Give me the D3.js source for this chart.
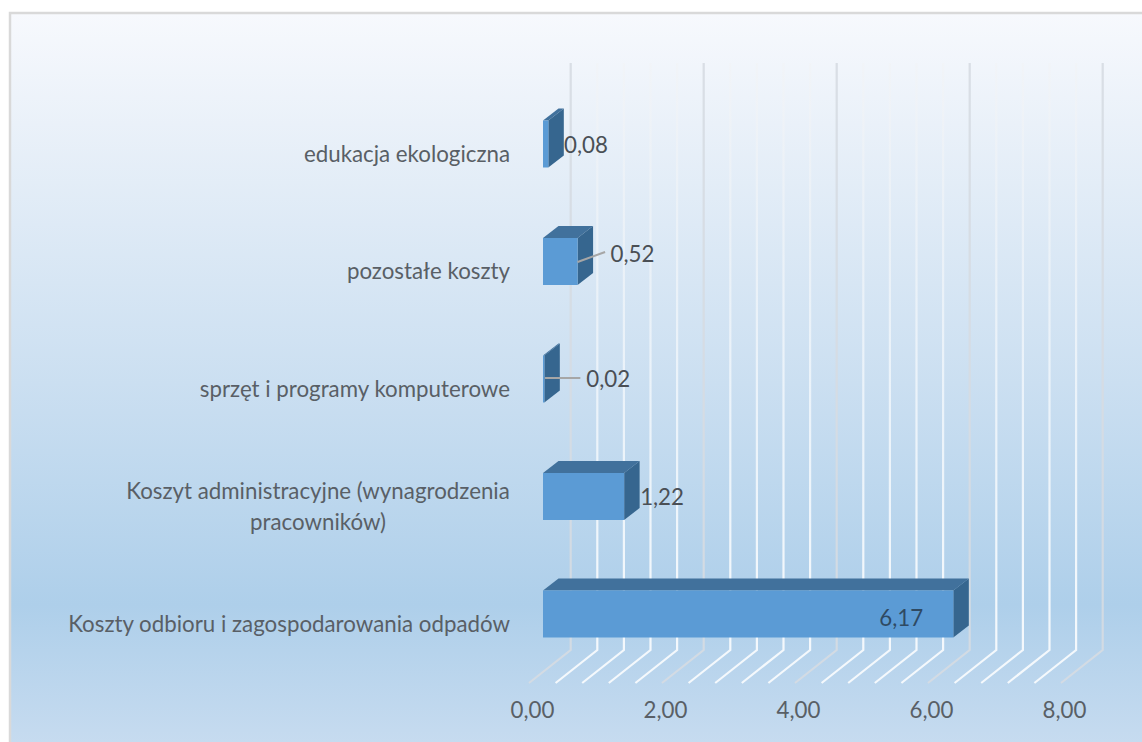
<!DOCTYPE html>
<html>
<head>
<meta charset="utf-8">
<script src="https://cdnjs.cloudflare.com/ajax/libs/d3/7.8.5/d3.min.js"></script>
<style>
html, body { margin: 0; padding: 0; background: #fff; overflow: hidden; }
text { font-family: Lato, "Open Sans", sans-serif; }
</style>
</head>
<body>
<div id="chart"></div>
<script>
// dane
const categories = [
    "edukacja ekologiczna",
    "pozostałe koszty",
    "sprzęt i programy komputerowe",
    "Koszyt administracyjne (wynagrodzenia pracowników)",
    "Koszty odbioru i zagospodarowania odpadów"
];
const values = [0.08, 0.52, 0.02, 1.22, 6.17];
const valueLabels = ["0,08", "0,52", "0,02", "1,22", "6,17"];
const axisTicks = [0, 2, 4, 6, 8];

const createBarChart = () => {
    const w = 1142, h = 742;
    const fontSize = 22.3;
    const svg = d3.select("#chart").append("svg")
        .attr("width", w)
        .attr("height", h)
        .style("display", "block");

    const defs = svg.append("defs");
    const bg = defs.append("linearGradient")
        .attr("id", "bg")
        .attr("gradientUnits", "userSpaceOnUse")
        .attr("x1", 0).attr("y1", 13).attr("x2", 0).attr("y2", 753);
    [[0, "#f7f9fd"], [0.15, "#eaf1f9"], [0.5, "#cbdff1"], [0.8, "#aecfea"], [1, "#c8dcf0"]].forEach(s => {
        bg.append("stop").attr("offset", s[0]).attr("stop-color", s[1]);
    });

    // skale: przednia plaszczyzna slupkow
    const x = d3.scaleLinear().domain([0, 8]).range([543, 1075]);
    const y = d3.scaleBand().domain(categories).range([85.25, 672.75])
        .paddingInner(0.6).paddingOuter(0.3);

    // przesuniecia glebi
    const barDepth = { dx: 15.5, dy: -12 };
    const wallDx = 27.7;
    const floorBack = 650, floorFront = 683, wallTop = 63;
    const floorDx = -41.7;

    // linie pomocnicze zanikaja ku gorze
    const minorStroke = defs.append("linearGradient")
        .attr("id", "minorStroke")
        .attr("gradientUnits", "userSpaceOnUse")
        .attr("x1", 0).attr("y1", wallTop).attr("x2", 0).attr("y2", floorFront);
    [[0, "#f2f2f2", 0.35], [0.5, "#ffffff", 0.6], [0.85, "#ffffff", 0.85], [1, "#ffffff", 0.85]].forEach(s => {
        minorStroke.append("stop")
            .attr("offset", s[0])
            .attr("stop-color", s[1])
            .attr("stop-opacity", s[2]);
    });

    // tlo i ramka (prawa i dolna krawedz poza kadrem)
    svg.append("rect")
        .attr("x", 10).attr("y", 13)
        .attr("width", 1200).attr("height", 800)
        .attr("fill", "url(#bg)")
        .attr("stroke", "#d9d9d9")
        .attr("stroke-width", 2.5);

    // siatka: co 0.4, glowne co 2
    const gridTicks = d3.range(21).map(i => i * 0.4);
    const grid = svg.append("g").attr("fill", "none");
    grid.selectAll("path")
        .data(gridTicks)
        .join("path")
        .attr("d", d => {
            const px = x(d) + wallDx;
            return `M${px},${wallTop}L${px},${floorBack}L${px + floorDx},${floorFront}`;
        })
        .attr("stroke", (d, i) => i % 5 === 0 ? "#d6dce2" : "url(#minorStroke)")
        .attr("stroke-opacity", (d, i) => i % 5 === 0 ? 0.9 : 1)
        .attr("stroke-width", 2.2);

    // slupki 3d
    const bars = svg.append("g").selectAll("g")
        .data(categories)
        .join("g");

    bars.append("path")
        .attr("fill", "#41719c")
        .attr("d", (d, i) => {
            const x0 = x(0), x1 = x(values[i]), t = y(d);
            return `M${x0},${t}L${x0 + barDepth.dx},${t + barDepth.dy}L${x1 + barDepth.dx},${t + barDepth.dy}L${x1},${t}Z`;
        });

    bars.append("path")
        .attr("fill", "#36668f")
        .attr("d", (d, i) => {
            const x1 = x(values[i]), t = y(d), b = t + y.bandwidth();
            return `M${x1},${t}L${x1 + barDepth.dx},${t + barDepth.dy}L${x1 + barDepth.dx},${b + barDepth.dy}L${x1},${b}Z`;
        });

    bars.append("rect")
        .attr("x", x(0))
        .attr("y", d => y(d))
        .attr("width", (d, i) => x(values[i]) - x(0))
        .attr("height", y.bandwidth())
        .attr("fill", "#5b9bd5");

    // linie odniesienia etykiet
    const leaders = [
        null,
        { from: [0, 24], to: [27.5, 14] },
        { from: [0.7, 22.5], to: [36, 22.5] },
        null,
        null
    ];
    svg.append("g").selectAll("path")
        .data(categories.filter((d, i) => leaders[i]))
        .join("path")
        .attr("fill", "none")
        .attr("stroke", "#a6a6a6")
        .attr("stroke-width", 2)
        .attr("d", d => {
            const i = categories.indexOf(d), l = leaders[i];
            const x1 = x(values[i]), t = y(d);
            return `M${x1 + l.from[0]},${t + l.from[1]}L${x1 + l.to[0]},${t + l.to[1]}`;
        });

    // etykiety wartosci
    const labelOffset = [[15.7, 32], [33, 24], [42, 31.5], [16, 32], [-74, 35]];
    svg.append("g").selectAll("text")
        .data(valueLabels)
        .join("text")
        .attr("x", (d, i) => x(values[i]) + labelOffset[i][0])
        .attr("y", (d, i) => y(categories[i]) + labelOffset[i][1])
        .attr("font-size", fontSize)
        .attr("fill", (d, i) => i === 4 ? "#2f4a63" : "#4a4f55")
        .text(d => d);

    // etykiety kategorii
    const wrapAt = 44;
    const catLabels = svg.append("g").selectAll("text")
        .data(categories)
        .join("text")
        .attr("text-anchor", "middle")
        .attr("font-size", fontSize)
        .attr("fill", "#595f66");

    catLabels.each(function(d) {
        const words = d.split(" ");
        const lines = [];
        let line = "";
        words.forEach(word => {
            const next = line ? line + " " + word : word;
            if (next.length > wrapAt) { lines.push(line); line = word; }
            else line = next;
        });
        lines.push(line);
        const el = d3.select(this);
        lines.forEach((l, i) => {
            el.append("tspan")
                .attr("x", lines.length > 1 ? 318 : null)
                .attr("dy", i === 0 ? 0 : 31)
                .text(l);
        });
        if (lines.length > 1) {
            el.attr("y", y(d) + y.bandwidth() / 2 + 2);
        } else {
            el.attr("text-anchor", "end")
              .attr("x", 510)
              .attr("y", y(d) + y.bandwidth() / 2 + 17.7);
        }
    });

    // os x
    const xAxis = d3.axisBottom(x)
        .tickValues(axisTicks)
        .tickSize(0)
        .tickFormat(d => d3.format(".2f")(d).replace(".", ","));
    const axisG = svg.append("g")
        .attr("transform", "translate(-11,699.5)")
        .call(xAxis);
    axisG.select(".domain").remove();
    axisG.selectAll("text")
        .attr("font-size", fontSize)
        .attr("font-family", "Lato, 'Open Sans', sans-serif")
        .attr("fill", "#595f66");
};

createBarChart();
</script>
</body>
</html>
